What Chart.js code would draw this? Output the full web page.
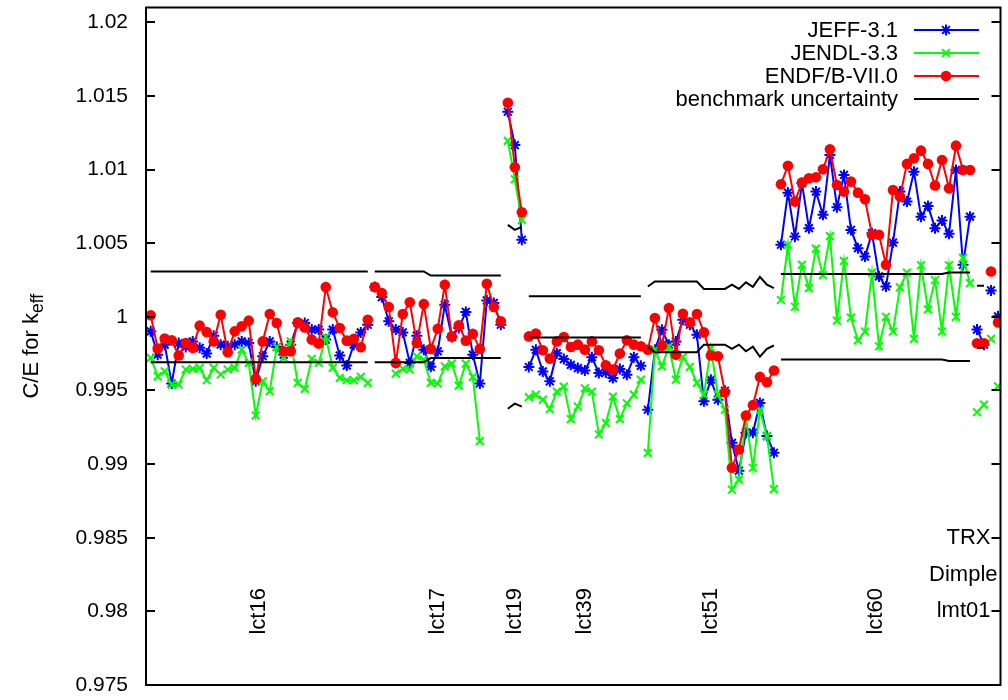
<!DOCTYPE html>
<html>
<head>
<meta charset="utf-8">
<script src="https://cdn.jsdelivr.net/npm/chart.js@4.4.1/dist/chart.umd.min.js"></script>
<style>
  html, body { margin: 0; padding: 0; background: #ffffff; }
  canvas { display: block; }
</style>
</head>
<body>
<canvas id="chart" width="1008" height="700"></canvas>
<script>
// Benchmark suites, in plotting order, and how many cases each holds
const groupNames = ['lct16', 'lct17', 'lct19', 'lct39', 'lct51', 'lct60', 'TRX', 'Dimple', 'lmt01'];
const groupSizes = [32, 19, 3, 17, 19, 28, 2, 1, 1];
// level (C/E units) at which each suite name is written
const groupLabelLevels = [0.98, 0.98, 0.98, 0.98, 0.98, 0.98, 0.985, 0.9825, 0.98];

// y axis ticks
const yTickValues = [0.975, 0.98, 0.985, 0.99, 0.995, 1.0, 1.005, 1.01, 1.015, 1.02];
const yTickLabels = ['0.975', '0.98', '0.985', '0.99', '0.995', '1', '1.005', '1.01', '1.015', '1.02'];

// C/E values, JEFF-3.1
const jeff = [
  // lct16
  0.99901, 0.99743, 0.99811, 0.99547, 0.99822, 0.99795, 0.99833, 0.99789, 0.99750, 0.99872,
  0.99811, 0.99800, 0.99811, 0.99833, 0.99822, 0.99562, 0.99732, 0.99833, 0.99795, 0.99743,
  0.99811, 0.99958, 0.99958, 0.99913, 0.99913, 0.99845, 0.99913, 0.99737, 0.99669, 0.99811,
  0.99894, 0.99946,
  // lct17
  1.00202, 1.00134, 0.99969, 0.99913, 0.99894, 0.99687, 0.99872, 0.99777, 0.99660, 0.99766,
  1.00082, 0.99863, 0.99924, 1.00033, 0.99743, 0.99547, 1.00111, 1.00094, 0.99946,
  // lct19
  1.01392, 1.01166, 1.00523,
  // lct39
  0.99659, 0.99776, 0.99629, 0.99562, 0.99753, 0.99713, 0.99674, 0.99652, 0.99636, 0.99726,
  0.99618, 0.99622, 0.99584, 0.99645, 0.99607, 0.99726, 0.99667,
  // lct51
  0.99369, 0.99776, 0.99912, 0.99810, 0.99833, 0.99980, 0.99946, 0.99878, 0.99426, 0.99573,
  0.99437, 0.99498, 0.99144, 0.98955, 0.99213, 0.99213, 0.99415, 0.99190, 0.99077,
  // lct60
  1.00489, 1.00843, 1.00545, 1.00907, 1.00602, 1.00850, 1.00692, 1.01099, 1.00744, 1.00963,
  1.00590, 1.00466, 1.00409, 1.00568, 1.00274, 1.00206, 1.00504, 1.00850, 1.00782, 1.00985,
  1.00680, 1.00753, 1.00602, 1.00653, 1.00563, 1.00997, 1.00353, 1.00680,
  // TRX, Dimple, lmt01
  0.99913, 0.99811, 1.00179, 1.00003
];

// C/E values, JENDL-3.3
const jendl = [
  // lct16
  0.99721, 0.99596, 0.99630, 0.99540, 0.99540, 0.99642, 0.99646, 0.99653, 0.99569, 0.99653,
  0.99608, 0.99642, 0.99653, 0.99777, 0.99687, 0.99330, 0.99562, 0.99495, 0.99795, 0.99721,
  0.99833, 0.99551, 0.99511, 0.99714, 0.99687, 0.99863, 0.99653, 0.99585, 0.99569, 0.99569,
  0.99592, 0.99551,
  // lct17
  null, null, null, 0.99614, 0.99646, 0.99642, 0.99732, 0.99709, 0.99551, 0.99547,
  0.99664, 0.99682, 0.99533, 0.99682, 0.99592, 0.99156, null, null, null,
  // lct19
  1.01194, 1.00934, 1.00658,
  // lct39
  0.99454, 0.99471, 0.99437, 0.99374, 0.99492, 0.99526, 0.99305, 0.99391, 0.99514, 0.99492,
  0.99201, 0.99280, 0.99458, 0.99305, 0.99413, 0.99471, 0.99573,
  // lct51
  0.99076, 0.99776, 0.99663, 0.99799, 0.99573, 0.99727, 0.99660, 0.99551, 0.99471, 0.99787,
  0.99471, 0.99369, 0.98826, 0.98894, 0.99320, 0.98975, 0.99366, 0.99190, 0.98830,
  // lct60
  1.00114, 1.00489, 1.00068, 1.00353, 1.00195, 1.00463, 1.00283, 1.00548, 0.99974, 1.00380,
  0.99994, 0.99840, 0.99900, 1.00300, 0.99800, 1.00000, 0.99900, 1.00200, 1.00300, 0.99850,
  1.00350, 1.00050, 1.00250, 0.99900, 1.00350, 1.00000, 1.00400, 1.00229,
  // TRX, Dimple, lmt01
  0.99352, 0.99404, 0.99850, 0.99528
];

// C/E values, ENDF/B-VII.0
const endf = [
  // lct16
  1.00010, 0.99784, 0.99852, 0.99840, 0.99737, 0.99822, 0.99789, 0.99940, 0.99897, 0.99833,
  1.00014, 0.99759, 0.99901, 0.99935, 0.99974, 0.99579, 0.99833, 1.00019, 0.99958, 0.99766,
  0.99766, 0.99962, 0.99928, 0.99845, 0.99818, 1.00202, 1.00030, 0.99924, 0.99838, 0.99850,
  0.99793, 0.99980,
  // lct17
  1.00202, 1.00161, 1.00067, 0.99687, 1.00019, 1.00098, 0.99822, 1.00087, 0.99782, 0.99919,
  1.00218, 0.99867, 0.99942, 0.99838, 0.99884, 0.99782, 1.00224, 1.00067, 0.99969,
  // lct19
  1.01453, 1.01015, 1.00710,
  // lct39
  0.99867, 0.99886, 0.99773, 0.99716, 0.99833, 0.99863, 0.99795, 0.99811, 0.99777, 0.99833,
  0.99773, 0.99671, 0.99642, 0.99750, 0.99840, 0.99811, 0.99800,
  // lct51
  0.99777, 0.99992, 0.99804, 1.00060, 0.99743, 1.00021, 0.99962, 1.00019, 0.99894, 0.99737,
  0.99732, 0.99488, 0.98975, 0.99099, 0.99330, 0.99400, 0.99592, 0.99556, 0.99635,
  // lct60
  1.00900, 1.01026, 1.00782, 1.00911, 1.00941, 1.00947, 1.01002, 1.01137, 1.00895, 1.00850,
  1.00918, 1.00843, 1.00798, 1.00557, 1.00557, 1.00353, 1.00861, 1.00816, 1.01038, 1.01076,
  1.01128, 1.01038, 1.00891, 1.01065, 1.00873, 1.01162, 1.00997, 1.00997,
  // TRX, Dimple, lmt01
  0.99820, 0.99820, 1.00308, 0.99962
];

// relative 1-sigma benchmark uncertainty of each case
const sigma = [
  // lct16
  0.00308, 0.00308, 0.00308, 0.00308, 0.00308, 0.00308, 0.00308, 0.00308, 0.00308, 0.00308,
  0.00308, 0.00308, 0.00308, 0.00308, 0.00308, 0.00308, 0.00308, 0.00308, 0.00308, 0.00308,
  0.00308, 0.00308, 0.00308, 0.00308, 0.00308, 0.00308, 0.00308, 0.00308, 0.00308, 0.00308,
  0.00308, 0.00308,
  // lct17
  0.00308, 0.00308, 0.00308, 0.00308, 0.00308, 0.00308, 0.00308, 0.00308, 0.00280, 0.00280,
  0.00280, 0.00280, 0.00280, 0.00280, 0.00280, 0.00280, 0.00280, 0.00280, 0.00280,
  // lct19
  0.00624, 0.00590, 0.00610,
  // lct39
  0.00140, 0.00140, 0.00140, 0.00140, 0.00140, 0.00140, 0.00140, 0.00140, 0.00140, 0.00140,
  0.00140, 0.00140, 0.00140, 0.00140, 0.00140, 0.00140, 0.00140,
  // lct51
  0.00206, 0.00240, 0.00240, 0.00240, 0.00240, 0.00240, 0.00240, 0.00240, 0.00189, 0.00189,
  0.00189, 0.00189, 0.00218, 0.00189, 0.00234, 0.00203, 0.00271, 0.00218, 0.00195,
  // lct60
  0.00290, 0.00290, 0.00290, 0.00290, 0.00290, 0.00290, 0.00290, 0.00290, 0.00290, 0.00290,
  0.00290, 0.00290, 0.00290, 0.00290, 0.00290, 0.00290, 0.00290, 0.00290, 0.00290, 0.00290,
  0.00290, 0.00290, 0.00290, 0.00290, 0.00300, 0.00300, 0.00300, 0.00300,
  // TRX, Dimple, lmt01
  0.00210, 0.00210, 0.00200, 0.00570
];

// ENDF/B-VII.0 line also runs across the lct39 / lct51 boundary (case numbers)
const endfJoins = [[71, 72]];

// suite index of every case (case numbers start at 1)
const caseGroup = [];
groupSizes.forEach((n, g) => { for (let k = 0; k < n; k++) caseGroup.push(g); });

const toPoints = arr => arr.map((v, i) => ({ x: i + 1, y: v }));
const HIDDEN = 'rgba(0,0,0,0)';
const segmentsFor = (joins = []) => ({
  borderColor: ctx => {
    const a = ctx.p0DataIndex, b = ctx.p1DataIndex;
    if (caseGroup[a] === caseGroup[b]) return undefined;
    return joins.some(j => j[0] === a + 1 && j[1] === b + 1) ? undefined : HIDDEN;
  }
});

const FONT = "'Liberation Sans', Arial, Helvetica, sans-serif";
Chart.defaults.font.family = FONT;
Chart.defaults.color = '#000';

// inward ticks on both sides and the plot frame
const framePlugin = {
  id: 'frame',
  afterDatasetsDraw(chart) {
    const { ctx, chartArea: a } = chart;
    const y = chart.scales.y;
    ctx.save();
    ctx.strokeStyle = '#000';
    ctx.lineWidth = 2;
    ctx.beginPath();
    yTickValues.forEach(v => {
      const py = Math.round(y.getPixelForValue(v));
      ctx.moveTo(a.left, py); ctx.lineTo(a.left + 9, py);
      ctx.moveTo(a.right, py); ctx.lineTo(a.right - 9, py);
    });
    ctx.stroke();
    ctx.strokeRect(a.left, a.top, a.right - a.left, a.bottom - a.top);
    ctx.restore();
  }
};

// suite names below the data
const suiteLabelPlugin = {
  id: 'suiteLabels',
  afterDraw(chart) {
    const { ctx, chartArea: a } = chart;
    const xs = chart.scales.x, ys = chart.scales.y;
    ctx.save();
    ctx.fillStyle = '#000';
    ctx.font = '22px ' + FONT;
    let start = 1;
    groupNames.forEach((name, g) => {
      const centre = start + (groupSizes[g] - 1) / 2;
      start += groupSizes[g];
      const py = ys.getPixelForValue(groupLabelLevels[g]);
      if (name.startsWith('lct')) {
        ctx.save();
        ctx.translate(xs.getPixelForValue(centre), py);
        ctx.rotate(-Math.PI / 2);
        ctx.textAlign = 'center';
        ctx.textBaseline = 'middle';
        ctx.fillText(name, 0, 0);
        ctx.restore();
      } else {
        ctx.textAlign = 'right';
        ctx.textBaseline = 'middle';
        const inset = name === 'Dimple' ? 3 : 10;
        ctx.fillText(name, a.right - inset, py);
      }
    });
    ctx.restore();
  }
};

// y axis title with subscript, centred on the plot height
const yTitlePlugin = {
  id: 'yTitle',
  afterDraw(chart) {
    const { ctx, chartArea: a } = chart;
    const main = 'C/E for k', sub = 'eff';
    const mainFont = '22px ' + FONT, subFont = '17.5px ' + FONT;
    ctx.save();
    ctx.fillStyle = '#000';
    ctx.font = mainFont;
    const w1 = ctx.measureText(main).width;
    ctx.font = subFont;
    const w2 = ctx.measureText(sub).width;
    ctx.translate(38, (a.top + a.bottom) / 2);
    ctx.rotate(-Math.PI / 2);
    const x0 = -(w1 + w2) / 2;
    ctx.textBaseline = 'alphabetic';
    ctx.textAlign = 'left';
    ctx.font = mainFont;
    ctx.fillText(main, x0, 0);
    ctx.font = subFont;
    ctx.fillText(sub, x0 + w1, 5);
    ctx.restore();
  }
};

// key in the top right corner: text first, then the line sample
const keyPlugin = {
  id: 'key',
  afterDraw(chart) {
    const { ctx } = chart;
    const entries = chart.data.datasets.filter(d => d.inKey).sort((p, q) => p.keyRow - q.keyRow);
    ctx.save();
    entries.forEach((d, i) => {
      const cy = 30 + i * 23;
      ctx.font = '22px ' + FONT;
      ctx.fillStyle = '#000';
      ctx.textAlign = 'right';
      ctx.textBaseline = 'middle';
      ctx.fillText(d.label, 898, cy + 1);
      ctx.strokeStyle = d.borderColor;
      ctx.lineWidth = 2;
      ctx.beginPath();
      ctx.moveTo(914, cy); ctx.lineTo(979, cy);
      ctx.stroke();
      if (d.pointRadius > 0) {
        ctx.fillStyle = d.pointBackgroundColor;
        ctx.strokeStyle = d.pointBorderColor;
        ctx.lineWidth = d.pointBorderWidth;
        Chart.helpers.drawPoint(ctx, { pointStyle: d.pointStyle, radius: d.pointRadius, borderWidth: d.pointBorderWidth, rotation: 0 }, 946, cy);
      }
    });
    ctx.restore();
  }
};

const uncStyle = {
  borderColor: '#000', borderWidth: 2, pointRadius: 0, pointHoverRadius: 0,
  fill: false, tension: 0, segment: segmentsFor()
};

new Chart(document.getElementById('chart'), {
  type: 'line',
  data: {
    datasets: [
      Object.assign({ label: 'benchmark uncertainty', inKey: true, keyRow: 3,
        data: sigma.map((s, i) => ({ x: i + 1, y: 1 + s })) }, uncStyle),
      Object.assign({ label: 'benchmark uncertainty (lower)',
        data: sigma.map((s, i) => ({ x: i + 1, y: 1 - s })) }, uncStyle),
      {
        label: 'ENDF/B-VII.0', inKey: true, keyRow: 2, data: toPoints(endf),
        borderColor: '#ff0000', borderWidth: 2, tension: 0, fill: false,
        pointStyle: 'circle', pointRadius: 5.3, pointBorderWidth: 0,
        pointBackgroundColor: '#ff0000', pointBorderColor: '#ff0000',
        segment: segmentsFor(endfJoins)
      },
      {
        label: 'JENDL-3.3', inKey: true, keyRow: 1, data: toPoints(jendl),
        borderColor: '#00ff00', borderWidth: 2, tension: 0, fill: false,
        pointStyle: 'crossRot', pointRadius: 5.5, pointBorderWidth: 2,
        pointBackgroundColor: '#00ff00', pointBorderColor: '#00ff00',
        segment: segmentsFor()
      },
      {
        label: 'JEFF-3.1', inKey: true, keyRow: 0, data: toPoints(jeff),
        borderColor: '#0000ff', borderWidth: 2, tension: 0, fill: false,
        pointStyle: 'star', pointRadius: 5.5, pointBorderWidth: 2,
        pointBackgroundColor: '#0000ff', pointBorderColor: '#0000ff',
        segment: segmentsFor()
      }
    ]
  },
  options: {
    responsive: false,
    animation: false,
    devicePixelRatio: 1,
    spanGaps: false,
    layout: { padding: { left: 0, top: 7, right: 3, bottom: 15 } },
    plugins: { legend: { display: false }, tooltip: { enabled: false } },
    events: [],
    scales: {
      x: { type: 'linear', min: 0.332, max: 122.355, display: false },
      y: {
        type: 'linear', min: 0.975, max: 1.021,
        grid: { display: false, drawTicks: false },
        border: { display: false },
        afterBuildTicks: s => { s.ticks = yTickValues.map(v => ({ value: v })); },
        afterFit: s => { s.width = 146; s.paddingTop = 0; s.paddingBottom = 0; },
        ticks: {
          padding: 18, color: '#000',
          font: { size: 21, family: FONT },
          callback: (v, i) => yTickLabels[i]
        }
      }
    }
  },
  plugins: [framePlugin, suiteLabelPlugin, yTitlePlugin, keyPlugin]
});
</script>
</body>
</html>
